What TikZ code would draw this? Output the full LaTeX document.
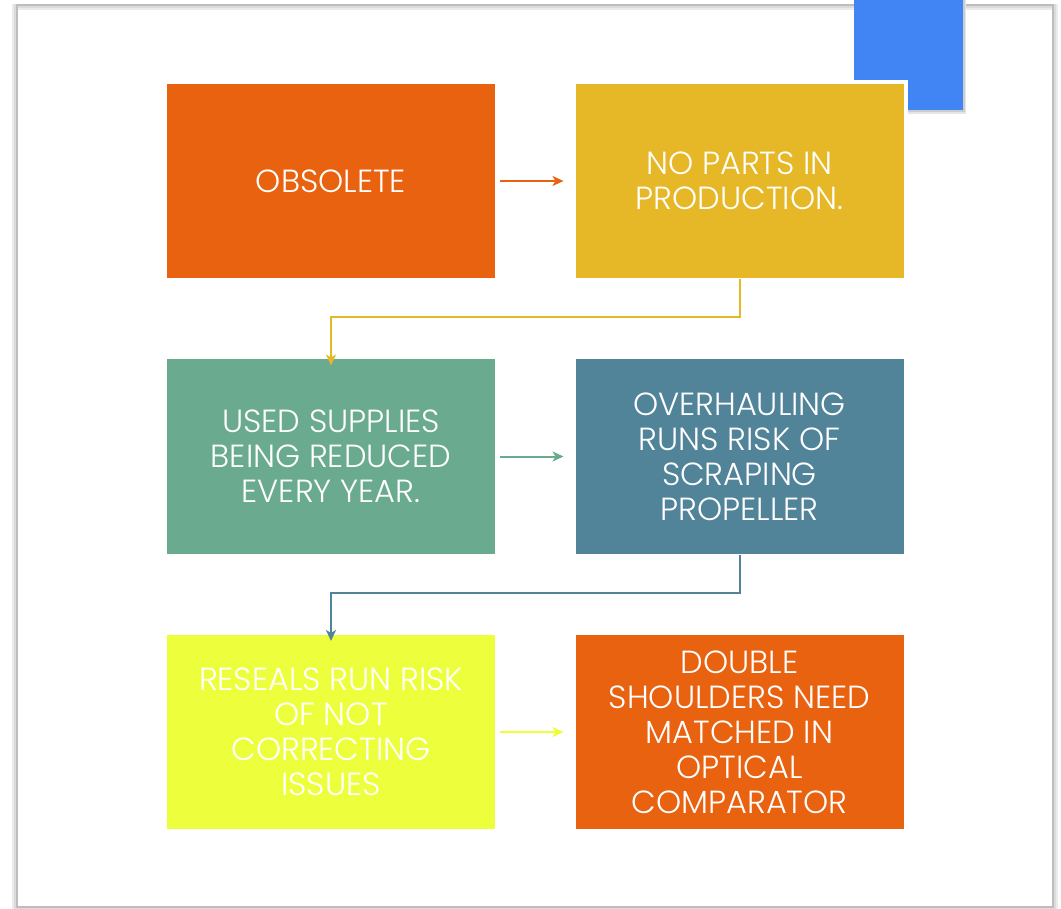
\documentclass[tikz,border=0pt]{standalone}
\usepackage{fontspec}
\setmainfont{Poppins Light}
\usetikzlibrary{arrows.meta}
\definecolor{corange}{HTML}{E8620F}
\definecolor{cyellow}{HTML}{E6B827}
\definecolor{cgreen}{HTML}{6AAA8F}
\definecolor{cteal}{HTML}{528499}
\definecolor{clime}{HTML}{EDFF3C}
\definecolor{cblue}{HTML}{4185F4}
\definecolor{cframe}{HTML}{BDBDBD}
\tikzset{
  box/.style={minimum width=332pt, minimum height=198pt, draw=white, line width=4pt,
    inner sep=0pt, text=white, align=center,
    font=\fontsize{32}{35}\selectfont},
  conn/.style={line width=2pt, -{Stealth[length=11pt,width=10pt,inset=3pt]}},
}
\begin{document}
\begin{tikzpicture}[x=1pt,y=-1pt]
\useasboundingbox (0,0) rectangle (1061,909);
\fill[white] (0,0) rectangle (1061,909);
% frame with soft shadow
\draw[black!8, line width=6pt] (15,7) rectangle (1055,909);
\draw[black!14, line width=4pt] (16,6) rectangle (1054,908);
\draw[cframe, line width=2pt] (17,5) rectangle (1053,907);
% blue square with shadow
\fill[black!10] (857,0) rectangle (966,114);
\fill[black!20] (856,0) rectangle (965,112);
\fill[cblue] (854,0) rectangle (963,110);
% boxes
\node[box, fill=corange] (a) at (331,181) {OBSOLETE};
\node[box, fill=cyellow] (b) at (739.5,181) {NO PARTS IN\\PRODUCTION.};
\node[box, fill=cgreen]  (c) at (331,456.5) {USED SUPPLIES\\BEING REDUCED\\EVERY YEAR.};
\node[box, fill=cteal]   (d) at (739.5,456.5) {OVERHAULING\\RUNS RISK OF\\SCRAPING\\PROPELLER};
\node[box, fill=clime]   (e) at (331,732) {RESEALS RUN RISK\\OF NOT\\CORRECTING\\ISSUES};
\node[box, fill=corange] (f) at (739.5,732) {DOUBLE\\SHOULDERS NEED\\MATCHED IN\\OPTICAL\\COMPARATOR};
% connectors
\draw[conn, corange] ([xshift=1pt]a.east) -- ([xshift=-8pt]b.west);
\draw[conn, cgreen]  ([xshift=1pt]c.east) -- ([xshift=-8pt]d.west);
\draw[conn, clime]   ([xshift=1pt]e.east) -- ([xshift=-8pt]f.west);
\draw[conn, cyellow] ([yshift=3pt]b.south) -- ++(0,38) -| ([yshift=-10pt]c.north);
\draw[conn, cteal]   ([yshift=3pt]d.south) -- ++(0,38) -| ([yshift=-10pt]e.north);
\end{tikzpicture}
\end{document}
